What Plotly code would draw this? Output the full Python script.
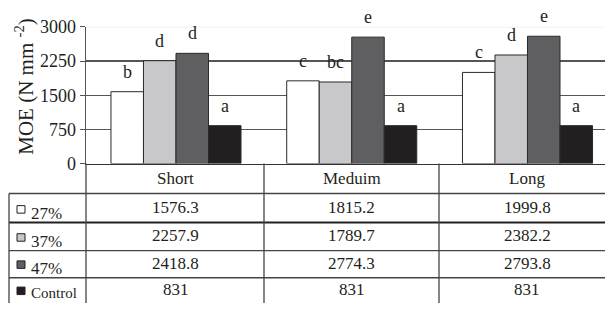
import plotly.graph_objects as go

categories = ["Short", "Meduim", "Long"]
series_names = ["27%", "37%", "47%", "Control"]
vals_27 = [1576.3, 1815.2, 1999.8]
vals_37 = [2257.9, 1789.7, 2382.2]
vals_47 = [2418.8, 2774.3, 2793.8]
vals_ctrl = [831, 831, 831]
letters_27 = ["b", "c", "c"]
letters_37 = ["d", "bc", "d"]
letters_47 = ["d", "e", "e"]
letters_ctrl = ["a", "a", "a"]
y_ticks = [0, 750, 1500, 2250, 3000]

series_vals = [vals_27, vals_37, vals_47, vals_ctrl]
series_letters = [letters_27, letters_37, letters_47, letters_ctrl]
colors = ["#ffffff", "#c8c8ca", "#5f5f61", "#231f20"]

W, H = 605, 313
FONT = "Liberation Serif, Times New Roman, DejaVu Serif, serif"


def px(x):
    return x / W


def py(y):
    return 1 - y / H


fig = go.Figure()
for name, vals, col in zip(series_names, series_vals, colors):
    fig.add_trace(go.Bar(
        x=categories, y=vals, name=name,
        marker=dict(color=col, line=dict(color="#2a2a2a", width=1)),
        showlegend=False, hoverinfo="skip",
    ))

annotations = []
bargap = 0.26
bw = (1 - bargap) / len(series_names)
# significance letters
for si, (vals, lets) in enumerate(zip(series_vals, series_letters)):
    for ci, (v, t) in enumerate(zip(vals, lets)):
        annotations.append(dict(
            x=ci + (si - 1.5) * bw, y=v, xref="x", yref="y",
            text=t, showarrow=False, yanchor="bottom", yshift=8,
            font=dict(family=FONT, size=18, color="#231f20"),
        ))

# table header (category names)
for ci, c in enumerate(categories):
    annotations.append(dict(
        x=ci, y=py(180), xref="x", yref="paper", text=c, showarrow=False,
        yanchor="middle", font=dict(family=FONT, size=17, color="#231f20"),
    ))

row_text_y = [211, 241, 271, 299]
label_y = [217, 247, 276, 302]
square_y = [213, 243, 272, 300]
for si, (name, vals) in enumerate(zip(series_names, series_vals)):
    for ci, v in enumerate(vals):
        annotations.append(dict(
            x=ci, y=py(row_text_y[si]), xref="x", yref="paper",
            text=f"{v:g}", showarrow=False, yanchor="middle",
            font=dict(family=FONT, size=17, color="#231f20"),
        ))
    annotations.append(dict(
        x=px(29), y=py(label_y[si]), xref="paper", yref="paper",
        text=name, showarrow=False, xanchor="left", yanchor="middle",
        font=dict(family=FONT, size=17 if name != "Control" else 15, color="#231f20"),
    ))

annotations.append(dict(
    x=px(25), y=py(82), xref="paper", yref="paper",
    text="MOE (N mm <sup>-2</sup>)", showarrow=False, textangle=-90,
    xanchor="center", yanchor="middle",
    font=dict(family=FONT, size=21, color="#231f20"),
))

shapes = []
lc = "#444444"
# faint top line at 3000
shapes.append(dict(type="line", xref="paper", yref="y", x0=px(86), x1=1, y0=3000, y1=3000,
                   line=dict(color="#e6e6e6", width=1), layer="above"))
# table horizontal lines
for yy, x0, w, c in [(196, 9, 1.3, lc), (227, 9, 2, "#222222"), (257, 9, 1.3, lc), (286, 9, 1.3, lc)]:
    shapes.append(dict(type="line", xref="paper", yref="paper", x0=px(x0), x1=1,
                       y0=py(yy), y1=py(yy), line=dict(color=c, width=w)))
# verticals
for xx, y0 in [(86, 164), (264, 164), (439, 164), (9, 196)]:
    shapes.append(dict(type="line", xref="paper", yref="paper", x0=px(xx), x1=px(xx),
                       y0=py(y0), y1=0, line=dict(color=lc, width=1.3)))
# legend squares
for si, col in enumerate(colors):
    cy = square_y[si]
    shapes.append(dict(type="rect", xref="paper", yref="paper",
                       x0=px(17), x1=px(25), y0=py(cy + 4), y1=py(cy - 4),
                       fillcolor=col, line=dict(color="#231f20", width=1)))

fig.update_layout(
    width=W, height=H,
    margin=dict(l=0, r=0, t=0, b=0),
    paper_bgcolor="white", plot_bgcolor="white",
    barmode="group", bargap=bargap, bargroupgap=0,
    annotations=annotations, shapes=shapes,
    font=dict(family=FONT, color="#231f20"),
    xaxis=dict(domain=[px(86), 1], type="category", range=[-0.512, 2.441],
               showticklabels=False, showgrid=False, showline=True,
               linecolor="#333333", linewidth=1.3, ticks="", zeroline=False),
    yaxis=dict(domain=[py(164), py(18)], range=[0, 3000], tickvals=y_ticks,
               ticks="outside", ticklen=5, tickcolor="#555555",
               showline=True, linecolor="#555555", linewidth=1.3,
               showgrid=True, gridcolor="#555555", gridwidth=1.3, zeroline=False,
               tickfont=dict(family=FONT, size=18, color="#231f20")),
)

fig.write_html("out.html", config={"displayModeBar": False, "staticPlot": True},
               post_script="document.body.style.margin='0';")
